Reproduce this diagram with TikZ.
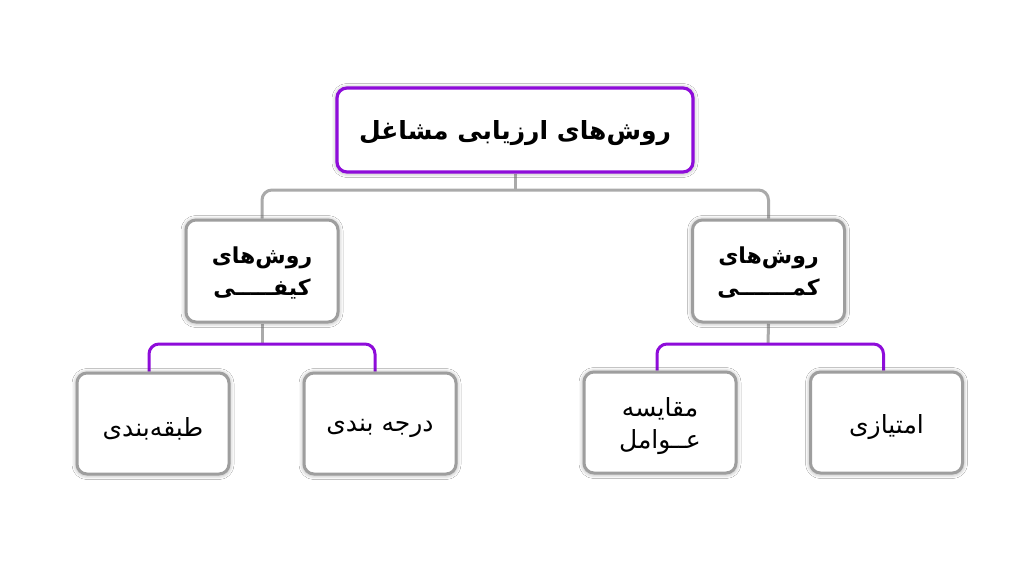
\documentclass[tikz,border=0pt]{standalone}
\usepackage{fontspec}
\newfontfamily\fa[Script=Arabic]{DejaVu Sans}
\TeXXeTstate=1
\usetikzlibrary{shadows.blur,backgrounds}
\definecolor{purp}{RGB}{142,12,218}
\definecolor{bgray}{RGB}{158,158,158}
\definecolor{lgray}{RGB}{170,170,170}
\newcommand\lowered[2]{\raisebox{-#1}[\height][\depth]{#2}}
\begin{document}
\begin{tikzpicture}[x=1pt,y=-1pt,
  shad/.style={blur shadow={shadow xshift=0pt,shadow yshift=-0.5pt,shadow blur radius=5pt,shadow opacity=45,shadow scale=1.0}},
  basebox/.style={draw=bgray,line width=3pt,rounded corners=10pt,fill=white,align=center,inner sep=2pt,shad},
  rootbox/.style={basebox,draw=purp,line width=3.2pt,minimum width=356pt,minimum height=84pt,font=\fa\bfseries\fontsize{25}{30}\selectfont},
  midbox/.style={basebox,minimum width=152pt,minimum height=102pt,font=\fa\bfseries\fontsize{22}{32}\selectfont},
  leafbox/.style={basebox,minimum width=152pt,minimum height=101pt,font=\fa\fontsize{25}{32}\selectfont},
  gline/.style={draw=lgray,line width=3pt,rounded corners=10pt},
  pline/.style={draw=purp,line width=3pt,rounded corners=10pt}]
\useasboundingbox (0,0) rectangle (1024,576);
\node[rootbox] (root) at (515,130) {\lowered{3pt}{\beginR روش‌های ارزیابی مشاغل\endR}};
\node[midbox] (kifi) at (262,271) {\lowered{2pt}{\beginR روش‌های\endR}\\\lowered{2pt}{\beginR کیفـــــی\endR}};
\node[midbox] (kami) at (768.5,271) {\lowered{2pt}{\beginR روش‌های\endR}\\\lowered{2pt}{\beginR کمـــــــی\endR}};
\node[leafbox] (tabaghe) at (153,423.5) {\lowered{5pt}{\beginR طبقه‌بندی\endR}};
\node[leafbox] (daraje) at (380,423.5) {\lowered{5pt}{\beginR درجه بندی\endR}};
\node[leafbox] (moghayese) at (660,422.5) {\lowered{4pt}{\beginR مقایسه\endR}\\\lowered{4pt}{\beginR عــوامل\endR}};
\node[leafbox] (emtiazi) at (886.5,422.5) {\lowered{5pt}{\beginR امتیازی\endR}};
\coordinate (j1) at (515,190);
\coordinate (j2) at (262,344);
\coordinate (j3) at (768,344);
\begin{scope}[on background layer]
\fill[white] (0,0) rectangle (1024,576);
\draw[gline] (root.south) -- (j1);
\draw[gline] (kifi.north) |- (j1) -| (kami.north);
\draw[gline] (kifi.south) -- (j2);
\draw[gline] (kami.south) -- (j3);
\draw[pline] ([xshift=-4pt]tabaghe.north) |- (j2) -| ([xshift=-5pt]daraje.north);
\draw[pline] ([xshift=-3pt]moghayese.north) |- (j3) -| ([xshift=-3pt]emtiazi.north);
\end{scope}
\end{tikzpicture}
\end{document}
